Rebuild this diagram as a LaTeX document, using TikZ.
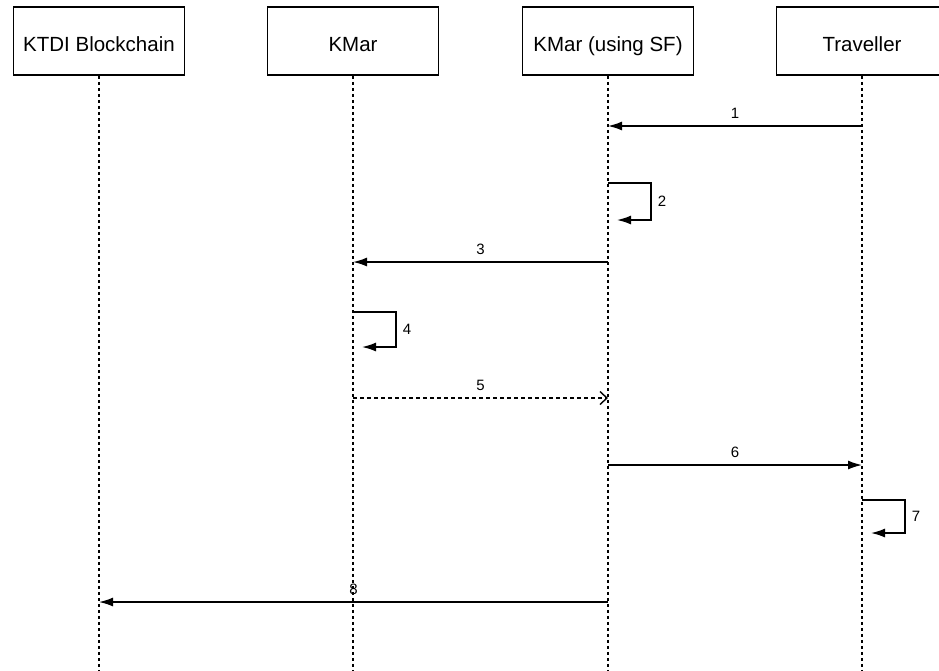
\documentclass[tikz,border=0pt]{standalone}
\usepackage{fontspec}
\setmainfont{Liberation Sans}
\usetikzlibrary{arrows.meta}

\begin{document}
\begin{tikzpicture}[x=1pt,y=-1pt,
    actor/.style={draw, line width=1.5pt, minimum width=171pt, minimum height=68pt, inner sep=0pt, text height=23pt, text depth=3pt, font=\fontsize{20.5}{24}\selectfont},
    life/.style={line width=1.3pt, dash pattern=on 3.5pt off 2.5pt},
    msg/.style={line width=1.5pt, -{Latex[length=14pt,width=9pt]}},
    reply/.style={line width=1.4pt, dash pattern=on 4pt off 3pt, -{Straight Barb[length=7pt,width=13pt]}},
    num/.style={font=\fontsize{15}{18}\selectfont, inner sep=2pt}]
            \useasboundingbox (0,0) rectangle (939,670);

            % Participants
            \node[actor] (chain) at (99,41) {KTDI Blockchain};
            \node[actor] (kmar) at (353,41) {KMar};
            \node[actor] (kmarsf) at (608,41) {KMar (using SF)};
            \node[actor] (trav) at (862,41) {Traveller};

            % Lifelines
            \foreach \p in {chain,kmar,kmarsf,trav} {
                \coordinate (\p end) at (\p.south |- 0,670);
                \draw[life] (\p.south) -- (\p end);
            }

            % Messages between lifelines
            \coordinate (m1s) at (trav.south |- 0,126);
            \coordinate (m1e) at (kmarsf.south |- 0,126);
            \draw[msg] (m1s) -- node[num, above=5pt] {1} (m1e);

            \coordinate (m3s) at (kmarsf.south |- 0,262);
            \coordinate (m3e) at (kmar.south |- 0,262);
            \draw[msg] (m3s) -- node[num, above=5pt] {3} (m3e);

            \coordinate (m5s) at (kmar.south |- 0,398);
            \coordinate (m5e) at (kmarsf.south |- 0,398);
            \draw[reply] (m5s) -- node[num, above=5pt] {5} (m5e);

            \coordinate (m6s) at (kmarsf.south |- 0,465);
            \coordinate (m6e) at (trav.south |- 0,465);
            \draw[msg] (m6s) -- node[num, above=5pt] {6} (m6e);

            \coordinate (m8s) at (kmarsf.south |- 0,602);
            \coordinate (m8e) at (chain.south |- 0,602);
            \draw[msg] (m8s) -- node[num, above=5pt] {8} (m8e);

            % Self calls
            \coordinate (s2s) at (kmarsf.south |- 0,183);
            \coordinate (s2e) at ([xshift=9pt]kmarsf.south |- 0,220);
            \draw[msg] (s2s) -- ++(43,0) |- node[num, right=4pt, pos=0.25] {2} (s2e);

            \coordinate (s4s) at (kmar.south |- 0,312);
            \coordinate (s4e) at ([xshift=9pt]kmar.south |- 0,347);
            \draw[msg] (s4s) -- ++(43,0) |- node[num, right=4pt, pos=0.25] {4} (s4e);

            \coordinate (s7s) at (trav.south |- 0,500);
            \coordinate (s7e) at ([xshift=9pt]trav.south |- 0,533);
            \draw[msg] (s7s) -- ++(43,0) |- node[num, right=4pt, pos=0.25] {7} (s7e);
        \end{tikzpicture}
\end{document}
